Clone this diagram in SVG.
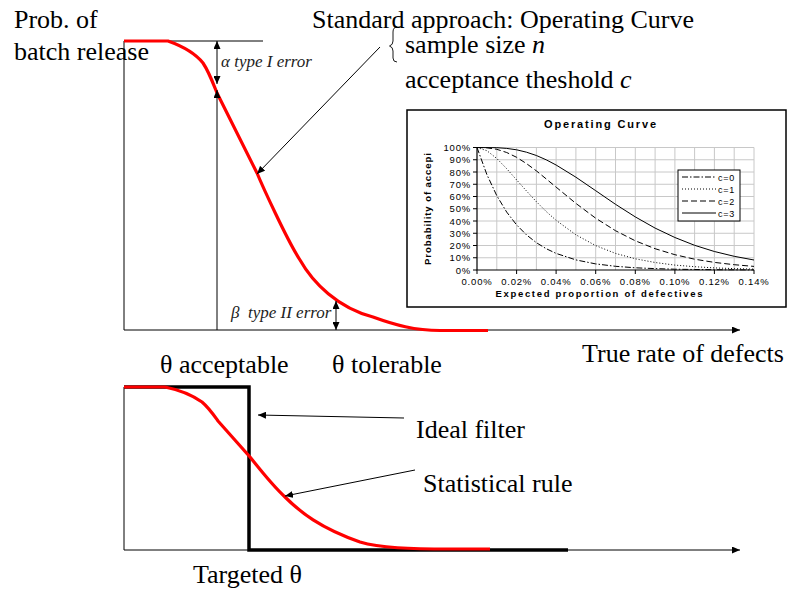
<svg xmlns="http://www.w3.org/2000/svg" width="788" height="592" viewBox="0 0 788 592">
<style>
.t{font-family:"Liberation Serif","Times New Roman",serif;font-size:26px;fill:#000}
.it{font-family:"Liberation Serif","Times New Roman",serif;font-size:17px;font-style:italic;fill:#222}
.ax{stroke:#000;stroke-width:1;fill:none}
.red{stroke:#ff0000;stroke-width:3.2;fill:none;stroke-linejoin:round;stroke-linecap:butt}
.thick{stroke:#000;stroke-width:3.5;fill:none}
.grid{stroke:#c8c8c8;stroke-width:1;fill:none}
.cs{font-family:"Liberation Sans",Arial,sans-serif;fill:#000}
.tick{font-size:9.5px;letter-spacing:0.8px}
.crv{stroke:#000;fill:none;stroke-width:1}
</style>
<defs>
<marker id="ah" markerUnits="userSpaceOnUse" markerWidth="9" markerHeight="7" refX="8" refY="3.5" orient="auto-start-reverse">
<path d="M0,0 L8,3.5 L0,7 z" fill="#000"/>
</marker>
</defs>

<!-- top chart axes -->
<g id="top-axes">
<line class="ax" x1="124" y1="41" x2="124" y2="330"/>
<line class="ax" x1="124" y1="330" x2="740" y2="330" marker-end="url(#ah)"/>
<line class="ax" x1="124" y1="41" x2="263" y2="41"/>
</g>

<g id="top-ylabel">
<text class="t" x="14" y="28">Prob. of</text>
<text class="t" x="14" y="60">batch release</text>
</g>

<g id="standard-approach">
<text class="t" x="312" y="28">Standard approach: Operating Curve</text>
<text class="t" x="405" y="53">sample size <tspan font-style="italic">n</tspan></text>
<text class="t" x="405" y="88">acceptance theshold <tspan font-style="italic">c</tspan></text>
<path d="M397,27 Q393,27 393,32 L393,41 Q393,45 389.5,46 Q393,47 393,51 L393,58 Q393,62 397,62" fill="none" stroke="#000" stroke-width="0.9"/>
</g>

<g id="alpha">
<text class="it" x="221" y="67">α type I error</text>
</g>
<g id="beta">
<text class="it" x="231" y="318" xml:space="preserve">β  type II error</text>
</g>

<g id="top-labels">
<text class="t" x="160" y="373">θ acceptable</text>
<text class="t" x="332" y="373">θ tolerable</text>
<text class="t" x="582" y="362">True rate of defects</text>
</g>

<!-- inset chart -->
<g id="inset-chart">
<rect x="407" y="110" width="379" height="197" fill="#fff" stroke="#000" stroke-width="1.5"/>
<text class="cs" x="600" y="128" font-size="11" font-weight="bold" text-anchor="middle" textLength="112" lengthAdjust="spacing">Operating Curve</text>
<g class="grid">
<path d="M496.8,147.5V270 M516.6,147.5V270 M536.4,147.5V270 M556.1,147.5V270 M575.9,147.5V270 M595.7,147.5V270 M615.5,147.5V270 M635.3,147.5V270 M655.1,147.5V270 M674.9,147.5V270 M694.6,147.5V270 M714.4,147.5V270 M734.2,147.5V270 M754,147.5V270"/>
<path d="M477,147.5H754 M477,159.75H754 M477,172H754 M477,184.25H754 M477,196.5H754 M477,208.75H754 M477,221H754 M477,233.25H754 M477,245.5H754 M477,257.75H754"/>
</g>
<path d="M477,147.5V270H754" stroke="#000" stroke-width="1.2" fill="none"/>
<path d="M473,147.5H477 M473,159.75H477 M473,172H477 M473,184.25H477 M473,196.5H477 M473,208.75H477 M473,221H477 M473,233.25H477 M473,245.5H477 M473,257.75H477 M473,270H477 M477,270V274 M516.6,270V274 M556.1,270V274 M595.7,270V274 M635.3,270V274 M674.9,270V274 M714.4,270V274 M754,270V274" stroke="#000" stroke-width="1" fill="none"/>
<g class="cs tick" text-anchor="end">
<text x="471" y="151">100%</text>
<text x="471" y="163.2">90%</text>
<text x="471" y="175.5">80%</text>
<text x="471" y="187.7">70%</text>
<text x="471" y="200">60%</text>
<text x="471" y="212.2">50%</text>
<text x="471" y="224.5">40%</text>
<text x="471" y="236.7">30%</text>
<text x="471" y="249">20%</text>
<text x="471" y="261.2">10%</text>
<text x="471" y="273.5">0%</text>
</g>
<g class="cs tick" text-anchor="middle">
<text x="477" y="285">0.00%</text>
<text x="516.6" y="285">0.02%</text>
<text x="556.1" y="285">0.04%</text>
<text x="595.7" y="285">0.06%</text>
<text x="635.3" y="285">0.08%</text>
<text x="674.9" y="285">0.10%</text>
<text x="714.4" y="285">0.12%</text>
<text x="754" y="285">0.14%</text>
</g>
<text class="cs" x="599" y="297" font-size="9.5" font-weight="bold" text-anchor="middle" textLength="207" lengthAdjust="spacing">Expected proportion of defectives</text>
<text class="cs" transform="translate(431,209) rotate(-90)" font-size="9.5" font-weight="bold" text-anchor="middle" textLength="112" lengthAdjust="spacing">Probability of accepi</text>
<polyline class="crv" stroke-dasharray="6 2 1.5 2" points="477,147.5 486.9,174.6 496.8,195.7 506.7,212.1 516.6,224.9 526.5,234.9 536.4,242.7 546.2,248.7 556.1,253.4 575.9,259.9 595.7,263.9 615.5,266.3 635.3,267.8 655.1,268.6 674.9,269.2 694.6,269.5 714.4,269.7 734.2,269.8 754,269.9"/>
<polyline class="crv" stroke-dasharray="1 2" points="477,147.5 486.9,150.7 496.8,158.5 506.7,168.7 516.6,179.9 526.5,191 536.4,201.7 546.2,211.5 556.1,220.3 575.9,234.8 595.7,245.6 615.5,253.4 635.3,258.8 655.1,262.5 674.9,265.1 694.6,266.7 714.4,267.9 734.2,268.6 754,269.1"/>
<polyline class="crv" stroke-dasharray="6 3" stroke-width="1.2" points="477,147.5 486.9,147.8 496.8,149.3 506.7,152.5 516.6,157.3 526.5,163.6 536.4,170.9 546.2,178.9 556.1,187.1 575.9,203.4 595.7,218.2 615.5,230.7 635.3,240.8 655.1,248.7 674.9,254.7 694.6,259.2 714.4,262.4 734.2,264.7 754,266.4"/>
<polyline class="crv" points="477,147.5 496.8,147.7 506.7,148.4 516.6,149.8 526.5,152.2 536.4,155.5 546.2,159.8 556.1,165 575.9,177.2 595.7,190.7 615.5,204.3 635.3,216.9 655.1,228.1 674.9,237.5 694.6,245.3 714.4,251.5 734.2,256.3 754,260"/>
<g id="legend">
<rect x="678" y="170" width="62" height="51" fill="#fff" stroke="#000" stroke-width="1"/>
<line class="crv" x1="682" y1="177" x2="716" y2="177" stroke-dasharray="6 2 1.5 2"/>
<line class="crv" x1="682" y1="189" x2="716" y2="189" stroke-dasharray="1 2"/>
<line class="crv" x1="682" y1="201" x2="716" y2="201" stroke-dasharray="6 3"/>
<line class="crv" x1="682" y1="213" x2="716" y2="213"/>
<g class="cs" font-size="9" letter-spacing="0.8">
<text x="718" y="180.5">c=0</text>
<text x="718" y="192.5">c=1</text>
<text x="718" y="204.5">c=2</text>
<text x="718" y="216.5">c=3</text>
</g>
</g>
</g>

<!-- bottom chart -->
<g id="bottom-axes">
<line class="ax" x1="124" y1="387" x2="124" y2="550"/>
<line class="ax" x1="124" y1="550" x2="740" y2="550" marker-end="url(#ah)"/>
</g>
<g id="ideal-filter-shape">
<path class="thick" d="M124,387 H249 V550 H568"/>
</g>
<g id="bottom-labels">
<text class="t" x="416" y="438">Ideal filter</text>
<text class="t" x="423" y="492">Statistical rule</text>
<text class="t" x="193" y="583">Targeted θ</text>
</g>

<!-- red curves -->
<g id="curves">
<path class="red" d="M124,41 L168,41 C182,46 195,53 203,63 C209,72 213,83 217,93 L257,173 C262,185 287,240 300,260 C313,283 338,308 373,317 C395,325 415,330.5 440,330.5 L488,330.5"/>
<path class="red" d="M124,387 L165,387 C180,390 192,395 202,402 C209,408 213,414 218,421 L250,457 C262,472 272,485 285,497 C300,512 320,528 360,542 C380,548 410,549 450,549 L490,549"/>
</g>

<g id="connectors">
<line class="ax" x1="217" y1="41" x2="217" y2="84" marker-start="url(#ah)" marker-end="url(#ah)"/>
<line class="ax" x1="217" y1="330" x2="217" y2="90" marker-end="url(#ah)"/>
<line class="ax" x1="336" y1="301" x2="336" y2="330" marker-start="url(#ah)" marker-end="url(#ah)"/>
<line class="ax" x1="380" y1="47" x2="257" y2="174" marker-end="url(#ah)"/>
<line class="ax" x1="404" y1="418" x2="258" y2="415" marker-end="url(#ah)"/>
<line class="ax" x1="415" y1="470" x2="285" y2="496" marker-end="url(#ah)"/>
</g>
</svg>
